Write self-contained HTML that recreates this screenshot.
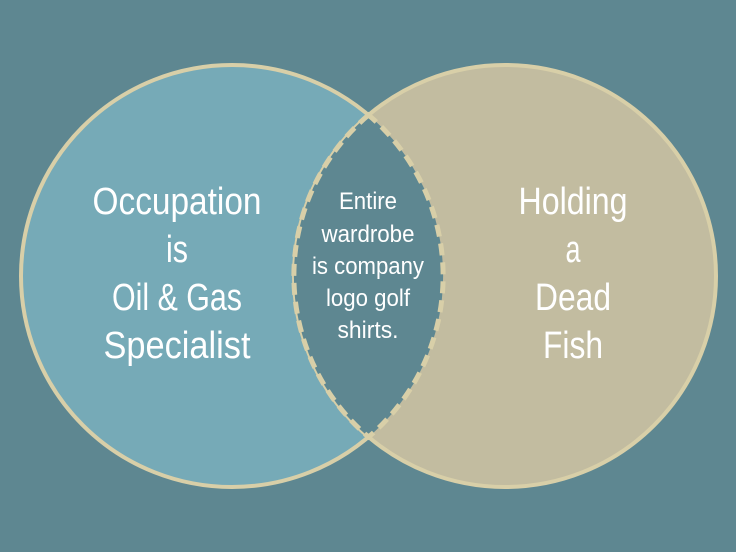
<!DOCTYPE html>
<html><head><meta charset="utf-8"><style>
html,body{margin:0;padding:0;background:#5E8791;}
svg{display:block}
text{font-family:"Liberation Sans Narrow","Liberation Sans",sans-serif;fill:#fff;text-anchor:middle}
</style></head><body>
<svg width="736" height="552" viewBox="0 0 736 552">
<rect width="736" height="552" fill="#5E8791"/>
<circle cx="232" cy="276" r="211" fill="#76AAB7" stroke="#D8CFA8" stroke-width="4"/>
<circle cx="505" cy="276" r="211" fill="#C2BCA0" stroke="#D8CFA8" stroke-width="4"/>
<path d="M368.5 115 A211 211 0 0 0 368.5 437 A211 211 0 0 0 368.5 115 Z" fill="#5E8791" stroke="#D8CFA8" stroke-width="5" stroke-dasharray="12 7"/>
<g font-size="38">
<text x="177" y="214" textLength="169" lengthAdjust="spacingAndGlyphs">Occupation</text>
<text x="177" y="262" textLength="22" lengthAdjust="spacingAndGlyphs">is</text>
<text x="177" y="310" textLength="130" lengthAdjust="spacingAndGlyphs">Oil &amp; Gas</text>
<text x="177" y="358" textLength="147" lengthAdjust="spacingAndGlyphs">Specialist</text>
<text x="573" y="214" textLength="109" lengthAdjust="spacingAndGlyphs">Holding</text>
<text x="573" y="262" textLength="15" lengthAdjust="spacingAndGlyphs">a</text>
<text x="573" y="310" textLength="76" lengthAdjust="spacingAndGlyphs">Dead</text>
<text x="573" y="358" textLength="60" lengthAdjust="spacingAndGlyphs">Fish</text>
</g>
<g font-size="24">
<text x="368" y="209" textLength="58" lengthAdjust="spacingAndGlyphs">Entire</text>
<text x="368" y="242" textLength="93" lengthAdjust="spacingAndGlyphs">wardrobe</text>
<text x="368" y="274" textLength="112" lengthAdjust="spacingAndGlyphs">is company</text>
<text x="368" y="306" textLength="84" lengthAdjust="spacingAndGlyphs">logo golf</text>
<text x="368" y="338" textLength="61" lengthAdjust="spacingAndGlyphs">shirts.</text>
</g>
</svg>
</body></html>
